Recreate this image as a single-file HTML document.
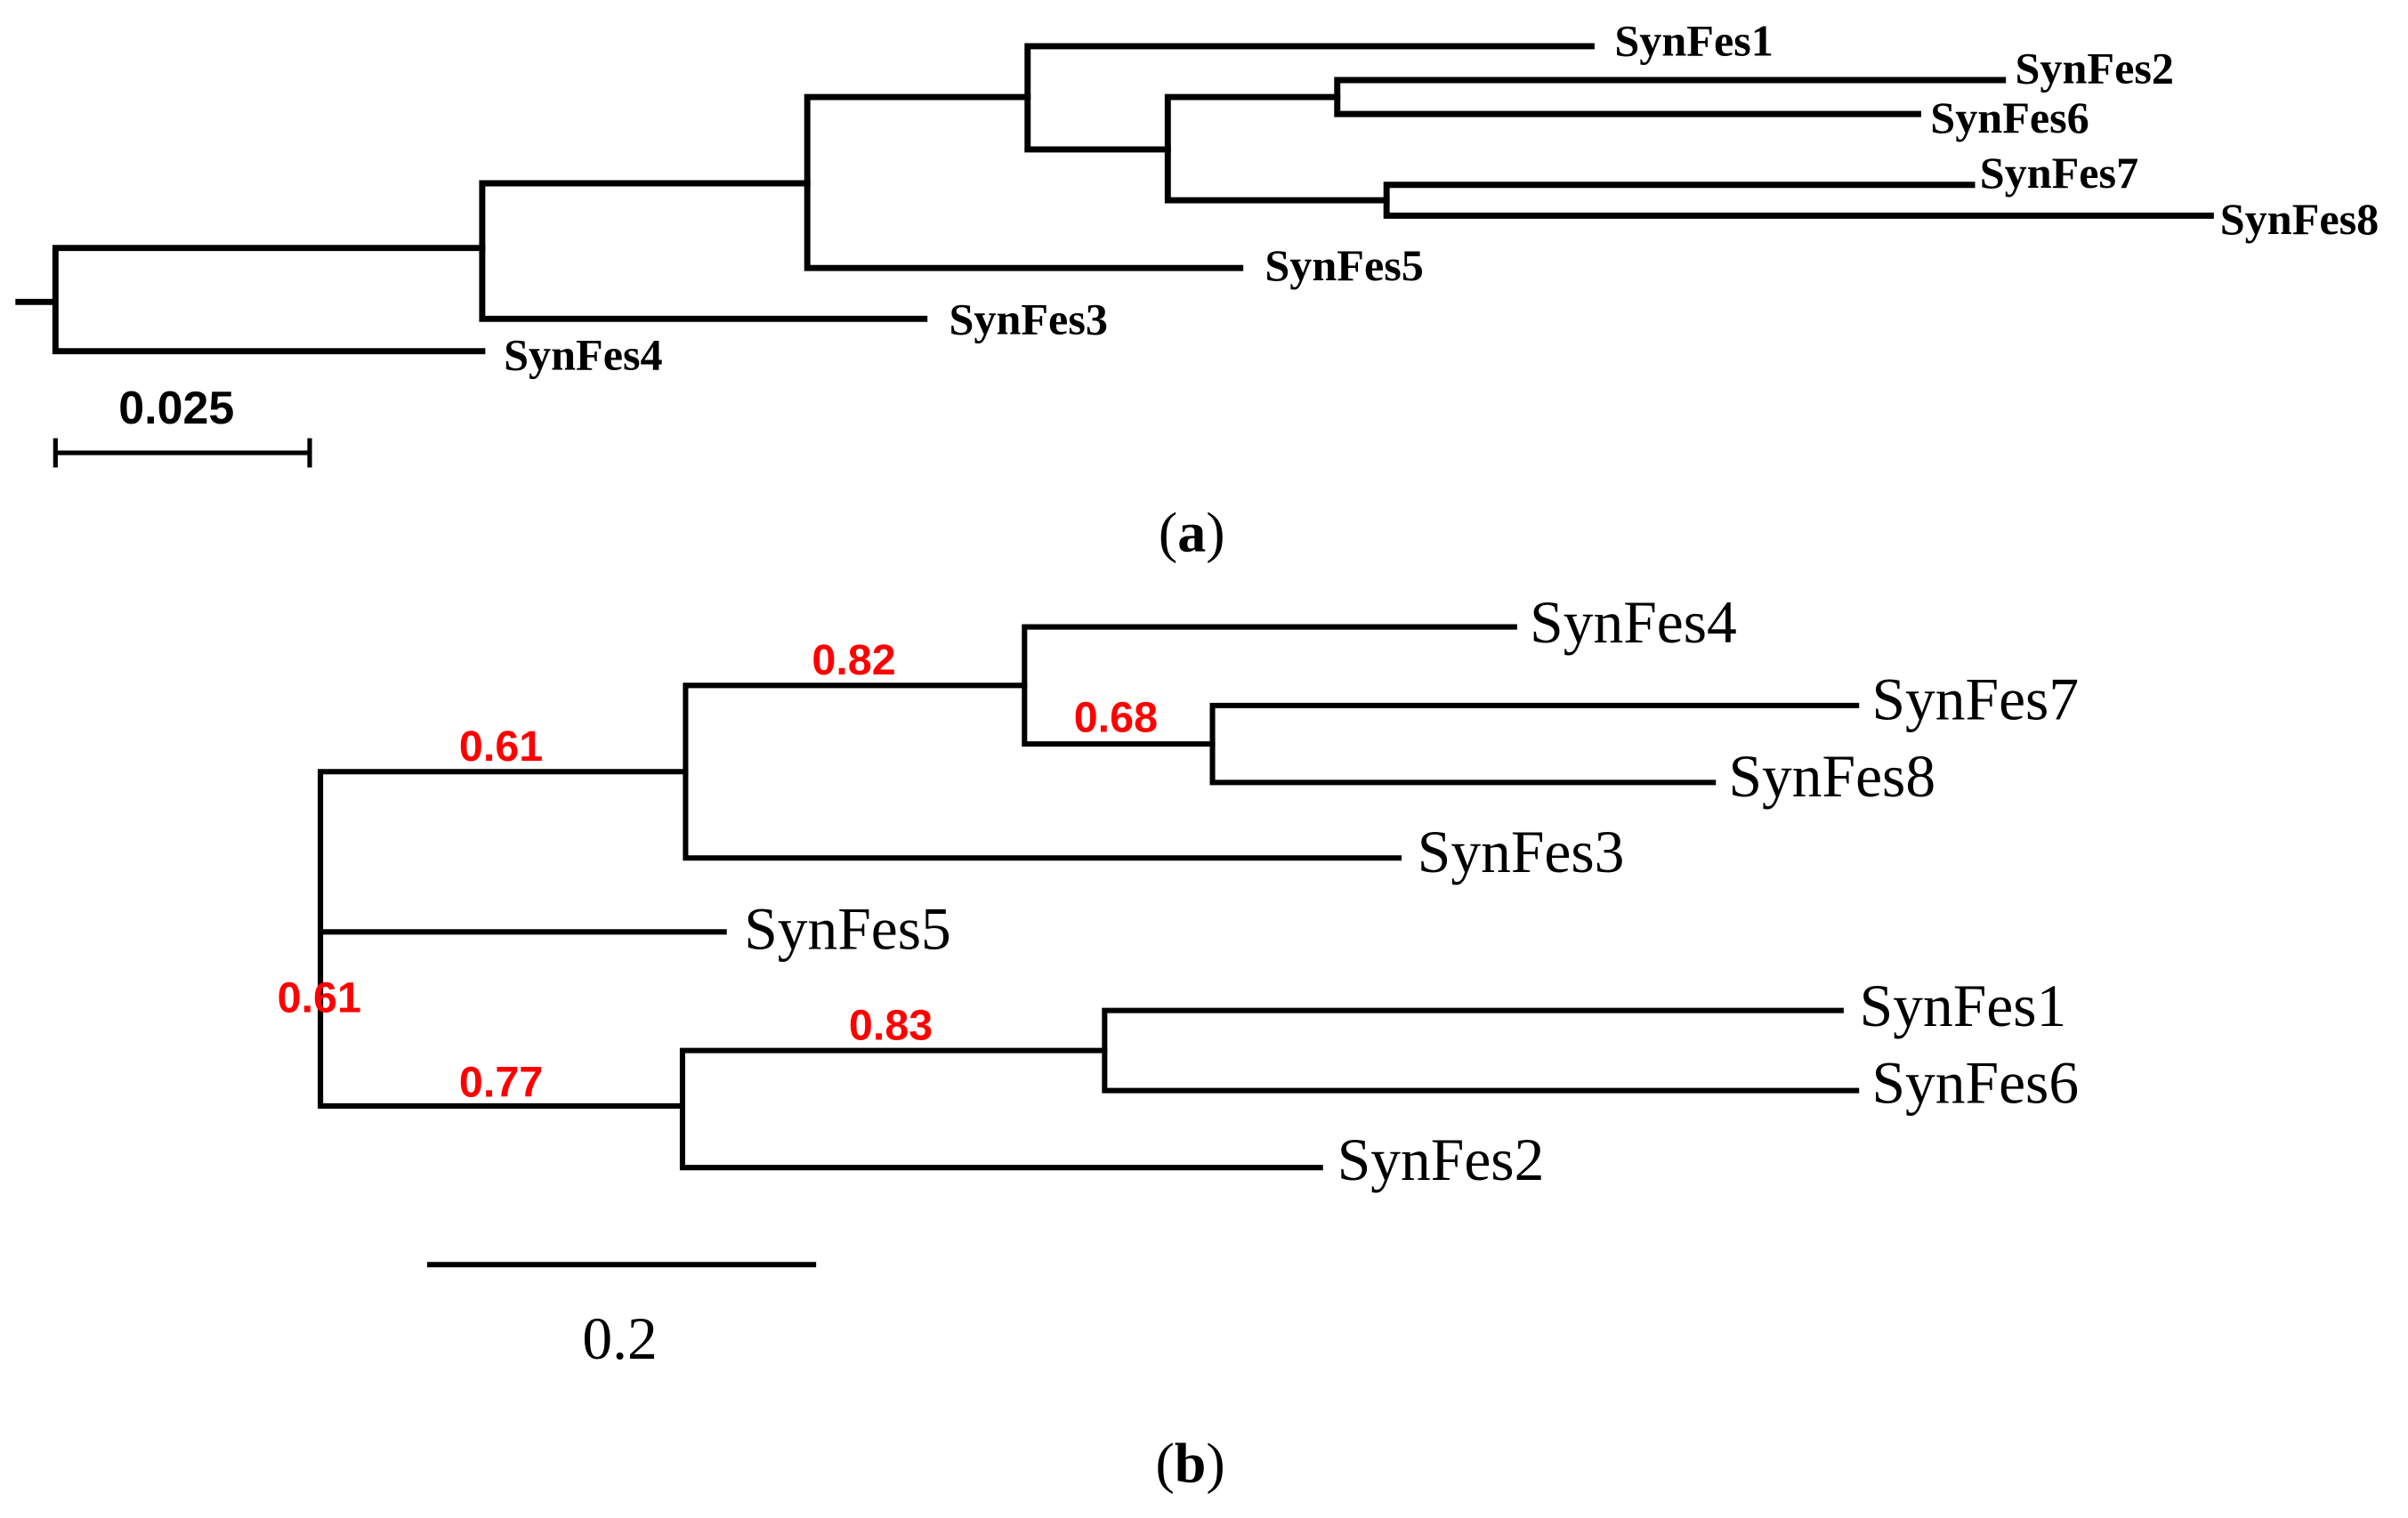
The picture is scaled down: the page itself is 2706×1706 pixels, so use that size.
<!DOCTYPE html>
<html><head><meta charset="utf-8"><style>
html,body{margin:0;padding:0;background:#fff;}
svg{display:block;}
.la{font-family:"Liberation Serif",serif;font-weight:bold;font-size:29px;fill:#000;}
.lb{font-family:"Liberation Serif",serif;font-size:39px;fill:#000;}
.r{font-family:"Liberation Sans",sans-serif;font-weight:bold;font-size:28px;fill:#f00;}
</style></head><body>
<svg width="2706" height="1706" viewBox="0 0 1563 985.5" preserveAspectRatio="none" xmlns="http://www.w3.org/2000/svg">
<g stroke="#000" stroke-width="4" fill="none" stroke-linecap="square">
<path d="M12 196H36M36 161V228M36 161H313M36 228H313"/>
<path d="M313 119V207M313 207H600M313 119H524"/>
<path d="M524 63V174M524 174H805M524 63H667"/>
<path d="M667 30V97M667 30H1033M667 97H758"/>
<path d="M758 63V130M758 63H868M758 130H900"/>
<path d="M868 52V74M868 52H1300M868 74H1245"/>
<path d="M900 120V140M900 120H1280M900 140H1435"/>
<path d="M36 294H201M36 286V302M201 286V302" stroke-width="3"/>
</g>
<g class="la">
<text x="1048" y="36">SynFes1</text>
<text x="1308" y="54">SynFes2</text>
<text x="1253" y="86">SynFes6</text>
<text x="1285" y="122">SynFes7</text>
<text x="1441" y="152">SynFes8</text>
<text x="821" y="182">SynFes5</text>
<text x="616" y="217">SynFes3</text>
<text x="327" y="240">SynFes4</text>
</g>
<text x="77" y="275" font-family="Liberation Sans,sans-serif" font-weight="bold" font-size="30">0.025</text>
<text x="752" y="358" font-family="Liberation Serif,serif" font-size="37">(<tspan font-weight="bold">a</tspan>)</text>

<g transform="translate(0,-2)">
<g stroke="#000" stroke-width="3.5" fill="none" stroke-linecap="square">
<path d="M208 503V720M208 503H445M208 607H470M210 720H443"/>
<path d="M445 447V559M445 447H665M445 559H908"/>
<path d="M665 409V485M665 409H983M665 485H787"/>
<path d="M787 460V510M787 460H1205M787 510H1112"/>
<path d="M443 684V760M443 684H717M443 760H857"/>
<path d="M717 658V710M717 658H1195M717 710H1205"/>
<path d="M279 823H528"/>
</g>
<g class="lb">
<text x="993" y="419">SynFes4</text>
<text x="1215" y="469">SynFes7</text>
<text x="1122" y="519">SynFes8</text>
<text x="920" y="568">SynFes3</text>
<text x="483" y="618">SynFes5</text>
<text x="1207" y="668">SynFes1</text>
<text x="1215" y="718">SynFes6</text>
<text x="868" y="768">SynFes2</text>
<text x="378" y="884">0.2</text>
</g>
<g class="r">
<text x="527" y="440">0.82</text>
<text x="298" y="496">0.61</text>
<text x="697" y="477">0.68</text>
<text x="180" y="659">0.61</text>
<text x="298" y="714">0.77</text>
<text x="551" y="677">0.83</text>
</g>
</g>
<text x="750" y="962" font-family="Liberation Serif,serif" font-size="37">(<tspan font-weight="bold">b</tspan>)</text>
</svg>
</body></html>
